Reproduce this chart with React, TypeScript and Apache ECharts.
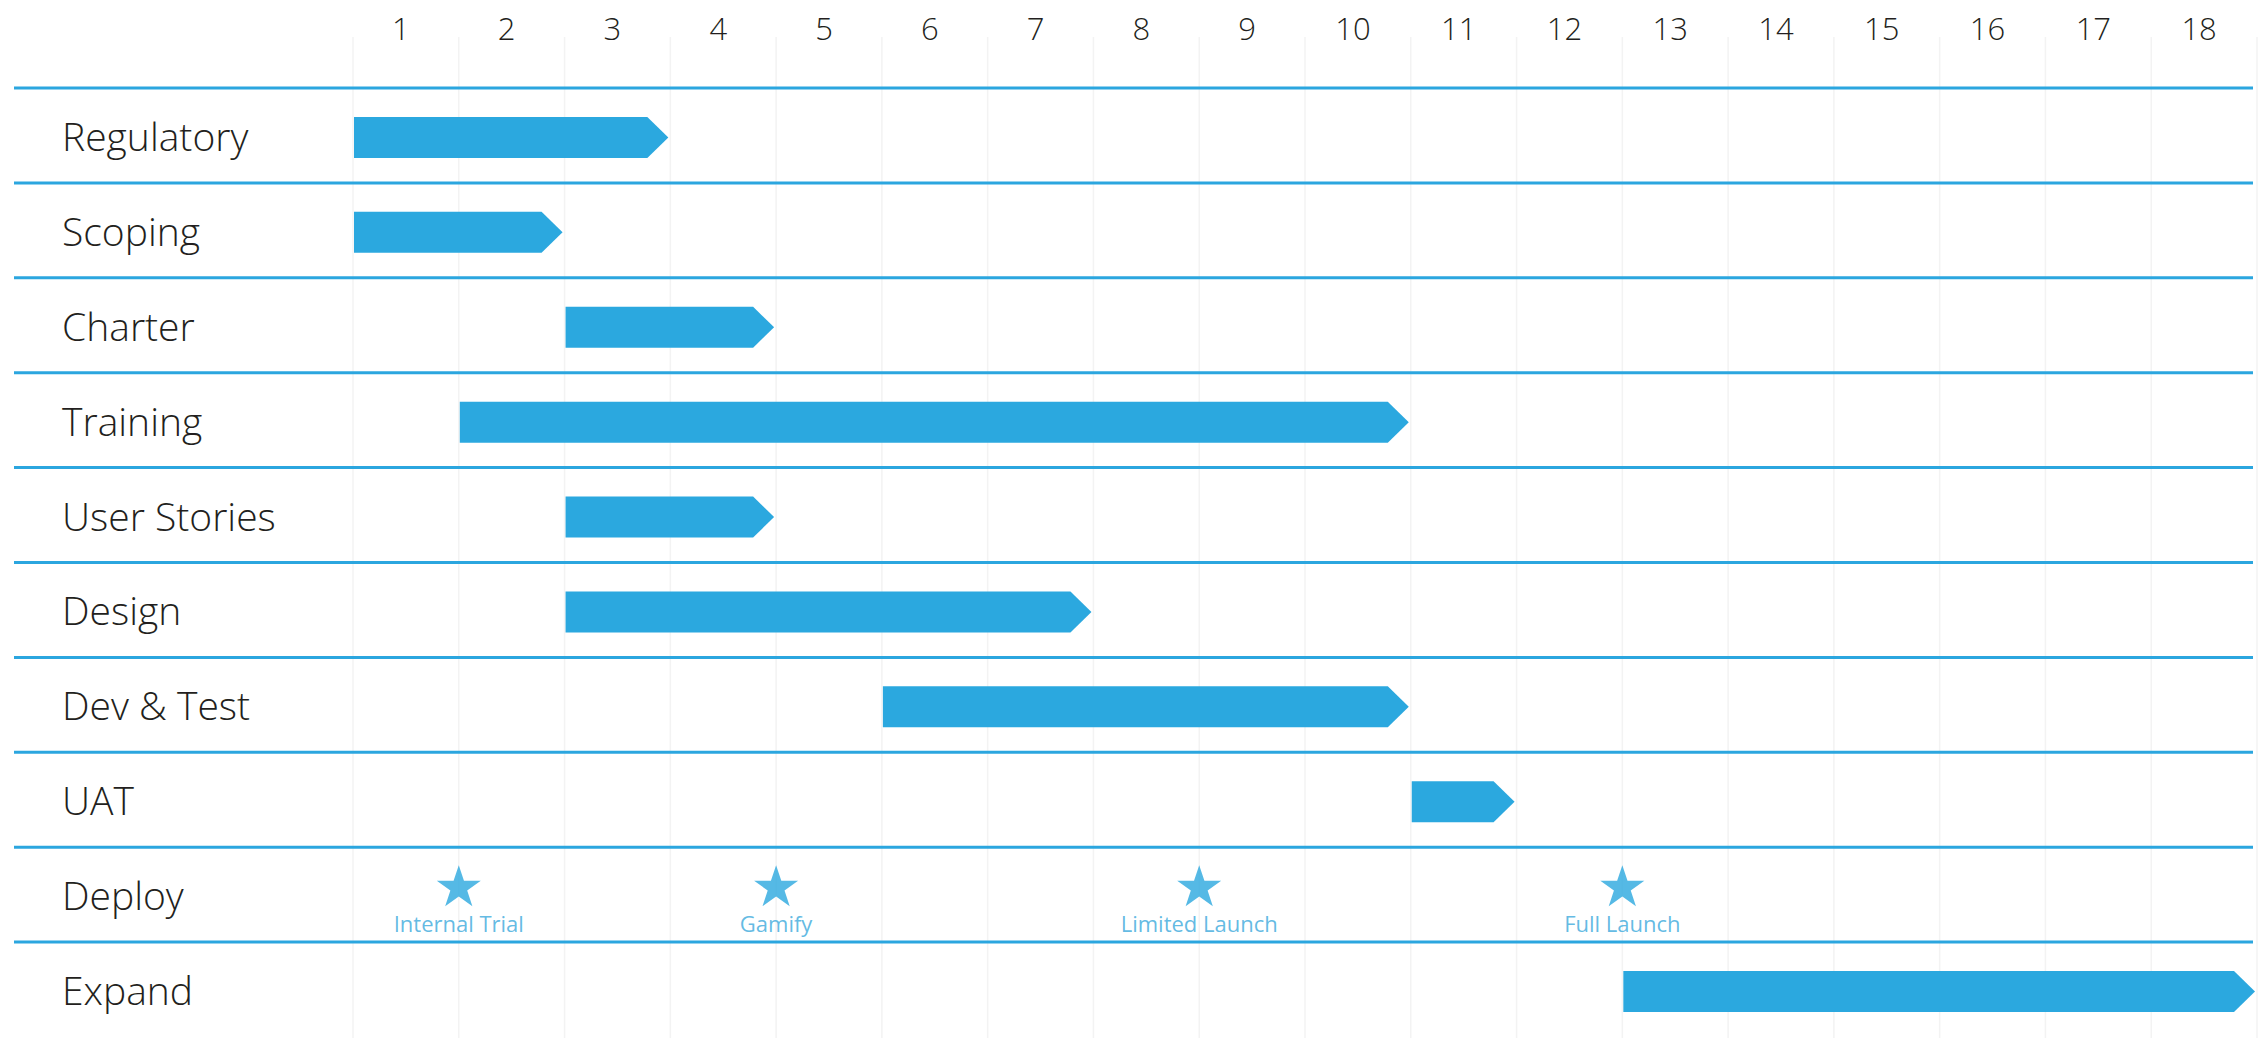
import React, { useEffect, useRef } from "react";
import * as echarts from "echarts";

const tasks = [
  "Regulatory",
  "Scoping",
  "Charter",
  "Training",
  "User Stories",
  "Design",
  "Dev & Test",
  "UAT",
  "Deploy",
  "Expand",
];
// start / end boundaries in weeks (0 = start of week 1)
const taskStart: (number | null)[] = [0, 0, 2, 1, 2, 2, 5, 10, null, 12];
const taskEnd: (number | null)[] = [3, 2, 4, 10, 4, 7, 10, 11, null, 18];

const milestoneNames = ["Internal Trial", "Gamify", "Limited Launch", "Full Launch"];
const milestoneWeeks = [1, 4, 8, 12];
const milestoneRow = "Deploy";

const weekLabels = ["1", "2", "3", "4", "5", "6", "7", "8", "9", "10", "11", "12", "13", "14", "15", "16", "17", "18"];
const gridWeeks = [0, 1, 2, 3, 4, 5, 6, 7, 8, 9, 10, 11, 12, 13, 14, 15, 16, 17, 18];

const BLUE = "#2ba8df";
const LINE_BLUE = "#2ba6df";
const TEXT = "#231f20";
const FONT = "'Open Sans', Lato, sans-serif";
const STAR =
  "path://M50,0L61.23,34.55L97.55,34.55L68.17,55.9L79.39,90.45L50,69.1L20.61,90.45L31.83,55.9L2.45,34.55L38.77,34.55Z";

export default function App() {
  const ref = useRef<HTMLDivElement>(null);
  useEffect(() => {
    if (!ref.current) return;
    const chart = echarts.init(ref.current, null, { renderer: "svg" });

    const barData = tasks
      .map((t, i) => [i, taskStart[i], taskEnd[i]])
      .filter((d) => d[1] !== null && d[2] !== null);

    const deployIdx = tasks.indexOf(milestoneRow);

    chart.setOption({
      animation: false,
      backgroundColor: "#ffffff",
      grid: { left: 353, right: 10, top: 88, bottom: 1, containLabel: false },
      xAxis: [
        {
          type: "value",
          min: 0,
          max: 18,
          interval: 1,
          axisLine: { show: false },
          axisTick: { show: false },
          axisLabel: { show: false },
          splitLine: { show: false },
        },
        {
          type: "category",
          position: "top",
          data: weekLabels,
          boundaryGap: true,
          axisLine: { show: false },
          axisTick: { show: false },
          splitLine: { show: false },
          axisLabel: {
            margin: 60,
            verticalAlign: "middle",
            fontSize: 31,
            fontWeight: 300,
            fontFamily: FONT,
            color: TEXT,
            padding: [0, 10, 0, 0],
          },
        },
      ],
      yAxis: {
        type: "category",
        data: tasks,
        inverse: true,
        axisLine: { show: false },
        axisTick: { show: false },
        splitLine: { show: false },
        axisLabel: {
          align: "left",
          margin: 291,
          fontSize: 39,
          fontWeight: 300,
          fontFamily: FONT,
          color: TEXT,
          padding: [18, 0, 0, 0],
        },
      },
      series: [
        {
          type: "custom",
          name: "vgrid",
          silent: true,
          z: 1,
          clip: false,
          xAxisIndex: 0,
          yAxisIndex: 0,
          encode: { x: 0, y: 1 },
          data: gridWeeks.map((w) => [w, 0]),
          renderItem: (params: any, api: any) => {
            const x = api.coord([api.value(0), 0])[0];
            return {
              type: "line",
              shape: { x1: x, y1: 37, x2: x, y2: 1038 },
              style: { stroke: "#f3f3f3", lineWidth: 1.5 },
            };
          },
        },
        {
          type: "custom",
          name: "rows",
          silent: true,
          z: 2,
          clip: false,
          xAxisIndex: 0,
          yAxisIndex: 0,
          encode: { x: 0, y: 1 },
          data: tasks.map((t, i) => [0, i]),
          renderItem: (params: any, api: any) => {
            const c = api.coord([0, api.value(1)]);
            const band = api.size([0, 1])[1];
            const y = c[1] - band / 2;
            return {
              type: "line",
              shape: { x1: 14, y1: y, x2: 2253, y2: y },
              style: { stroke: LINE_BLUE, lineWidth: 3 },
            };
          },
        },
        {
          type: "custom",
          name: "tasks",
          z: 3,
          clip: false,
          xAxisIndex: 0,
          yAxisIndex: 0,
          encode: { x: [1, 2], y: 0 },
          data: barData,
          renderItem: (params: any, api: any) => {
            const row = api.value(0);
            const p0 = api.coord([api.value(1), row]);
            const p1 = api.coord([api.value(2), row]);
            const h = 41;
            const yc = p0[1] + 2;
            const x0 = p0[0] + 1;
            const tip = p1[0] - 2;
            const body = tip - 21;
            return {
              type: "polygon",
              shape: {
                points: [
                  [x0, yc - h / 2],
                  [body, yc - h / 2],
                  [tip, yc],
                  [body, yc + h / 2],
                  [x0, yc + h / 2],
                ],
              },
              style: { fill: BLUE },
            };
          },
        },
        {
          type: "scatter",
          name: "milestones",
          z: 4,
          xAxisIndex: 0,
          yAxisIndex: 0,
          symbol: STAR,
          symbolSize: [44, 41],
          symbolOffset: [0, -9],
          itemStyle: { color: BLUE },
          label: {
            show: true,
            position: "bottom",
            distance: 6,
            formatter: "{b}",
            fontSize: 22,
            fontWeight: 400,
            fontFamily: FONT,
            color: "#3aa9dc",
          },
          data: milestoneWeeks.map((w, i) => ({ name: milestoneNames[i], value: [w, deployIdx] })),
        },
      ],
    });
    return () => chart.dispose();
  }, []);

  return (
    <div
      ref={ref}
      style={{ position: "fixed", left: 0, top: 0, width: 2267, height: 1038, background: "#fff" }}
    />
  );
}
